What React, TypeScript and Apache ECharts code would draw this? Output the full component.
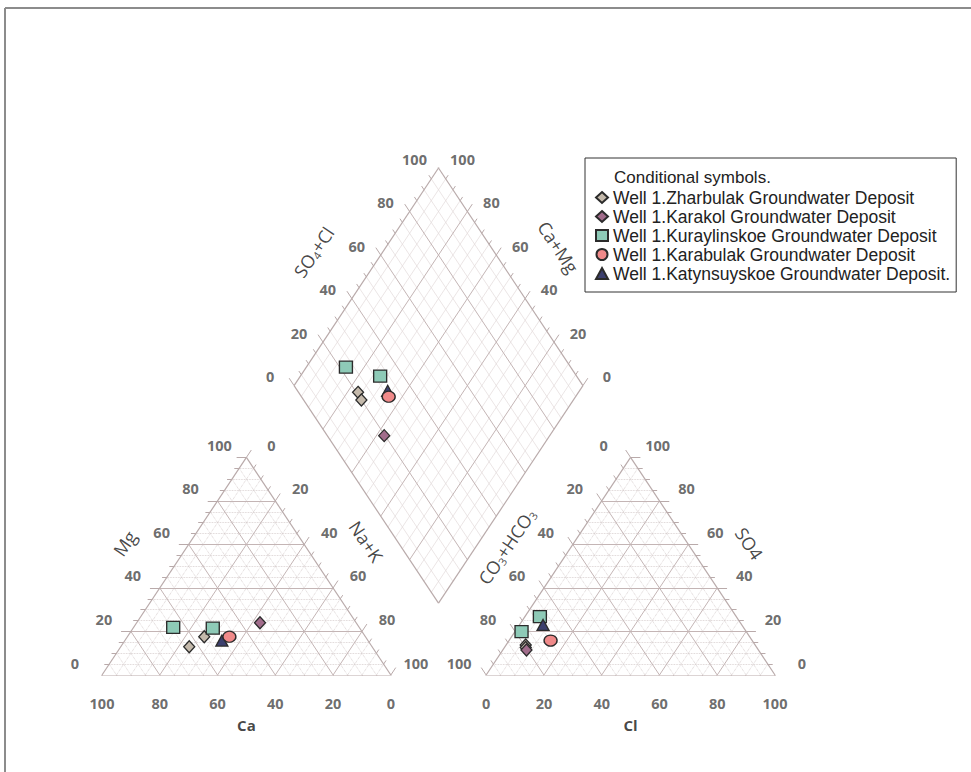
import React, { useEffect, useRef } from "react";
import * as echarts from "echarts";

// ---------- data ----------
const wells = [
  "Well 1.Zharbulak Groundwater Deposit",
  "Well 1.Karakol Groundwater Deposit",
  "Well 1.Kuraylinskoe Groundwater Deposit",
  "Well 1.Karabulak Groundwater Deposit",
  "Well 1.Katynsuyskoe Groundwater Deposit.",
];
const sampleWell = [0, 0, 1, 2, 2, 3, 4];
const ca = [63.3, 55.8, 33.3, 64.4, 50.9, 47.1, 50.6];
const mg = [13.0, 17.6, 24.0, 21.9, 21.5, 17.6, 15.8];
const naK = [23.7, 26.6, 42.7, 13.7, 27.6, 35.3, 33.6];
const hco3 = [79.4, 80.0, 80.3, 77.8, 68.0, 69.8, 68.8];
const so4 = [13.8, 12.6, 11.5, 19.9, 26.8, 15.8, 23.0];
const cl = [6.8, 7.4, 8.2, 2.3, 5.2, 14.4, 8.2];
const tickValues = [0, 20, 40, 60, 80, 100];

// ---------- styles ----------
const wellSymbols = ["diamond", "diamond", "rect", "circle", "triangle"];
const wellSizes: any[] = [[11, 12], [11, 12], [13, 12], [13, 11], [12, 11]];
const wellColors = ["#c4b9ab", "#a16c8b", "#8ecab7", "#f08a8a", "#3c3f6e"];
const drawOrder = [0, 1, 2, 4, 3];

// ---------- geometry ----------
const S = Math.sqrt(3) / 2;
const GAP = 33;
const OFF = 100 + GAP;
type P = [number, number];
const cat = (c: number, m: number, n: number): P => [n + m / 2, m * S];
const ani = (h: number, s: number, c: number): P => [OFF + c + s / 2, s * S];
const dia = (n: number, h: number): P => {
  const t = (OFF + 100 - h - n) / 2;
  return [n + t, 2 * S * t];
};

const UL: P = [-0.5, S];
const UR: P = [0.5, S];
const DR: P = [0.5, -S];
const DL: P = [-0.5, -S];
const LEFT: P = [-1, 0];
const RIGHT: P = [1, 0];

interface Family {
  a: (v: number) => P;
  b: (v: number) => P; // labeled end
  dir: P;
  off: [number, number];
  dotted: boolean;
}
const families: Family[] = [
  // left (cation) triangle
  { a: (v) => cat(0, v, 100 - v), b: (v) => cat(100 - v, v, 0), dir: LEFT, off: [-27, -12], dotted: true }, // Mg
  { a: (v) => cat(100 - v, 0, v), b: (v) => cat(0, 100 - v, v), dir: UR, off: [25, -12], dotted: true }, // Na+K
  { a: (v) => cat(v, 100 - v, 0), b: (v) => cat(v, 0, 100 - v), dir: DR, off: [0, 28], dotted: true }, // Ca
  // right (anion) triangle
  { a: (v) => ani(v, 0, 100 - v), b: (v) => ani(v, 100 - v, 0), dir: UL, off: [-27, -12], dotted: true }, // CO3+HCO3
  { a: (v) => ani(100 - v, v, 0), b: (v) => ani(0, v, 100 - v), dir: RIGHT, off: [27, -12], dotted: true }, // SO4
  { a: (v) => ani(0, 100 - v, v), b: (v) => ani(100 - v, 0, v), dir: DL, off: [0, 28], dotted: true }, // Cl
  // diamond
  { a: (v) => dia(100, 100 - v), b: (v) => dia(0, 100 - v), dir: UL, off: [-24, -9], dotted: false }, // SO4+Cl
  { a: (v) => dia(100 - v, 100), b: (v) => dia(100 - v, 0), dir: UR, off: [24, -9], dotted: false }, // Ca+Mg
];

const majorSegs: P[][] = [];
const minorTri: P[][] = [];
const minorDia: P[][] = [];
const tickSegs: P[][] = [];
const tickLabels: any[] = [];
families.forEach((f) => {
  for (let v = 0; v <= 100; v += 5) {
    const isMaj = v % 20 === 0;
    if (v > 0 && v < 100) {
      const seg = [f.a(v), f.b(v)];
      if (isMaj) majorSegs.push(seg);
      else if (f.dotted) minorTri.push(seg);
      else minorDia.push(seg);
    }
    const p = f.b(v);
    const e = isMaj ? 3.4 : 1.7;
    tickSegs.push([p, [p[0] + f.dir[0] * e, p[1] + f.dir[1] * e]]);
  }
  tickValues.forEach((v) => {
    tickLabels.push({ name: String(v), value: f.b(v), label: { offset: f.off } });
  });
});

const edgeSegs: P[][] = [
  [cat(100, 0, 0), cat(0, 0, 100)],
  [cat(0, 0, 100), cat(0, 100, 0)],
  [cat(0, 100, 0), cat(100, 0, 0)],
  [ani(100, 0, 0), ani(0, 0, 100)],
  [ani(0, 0, 100), ani(0, 100, 0)],
  [ani(0, 100, 0), ani(100, 0, 0)],
  [dia(0, 100), dia(0, 0)],
  [dia(0, 0), dia(100, 0)],
  [dia(100, 0), dia(100, 100)],
  [dia(100, 100), dia(0, 100)],
];

const axisTitles: any[] = [
  { text: "Mg", value: cat(40, 60, 0), off: [-64, -1], rot: 56, bold: false },
  { text: "Na+K", value: cat(0, 60, 40), off: [62, -3], rot: -56, bold: false },
  { text: "Ca", value: cat(50, 0, 50), off: [0, 50], rot: 0, bold: true },
  { text: "CO{s|3}+HCO{s|3}", value: ani(40, 60, 0), off: [-66, 2], rot: 56, bold: false },
  { text: "SO4", value: ani(0, 60, 40), off: [61, -1], rot: -56, bold: false },
  { text: "Cl", value: ani(50, 0, 50), off: [0, 50], rot: 0, bold: true },
  { text: "SO{s|4}+Cl", value: dia(0, 40), off: [-67, -3], rot: 56, bold: false },
  { text: "Ca+Mg", value: dia(40, 0), off: [62, -8], rot: -56, bold: false },
];

// ECharts applies label offset in the rotated frame: convert a screen offset to local
function localOffset(off: number[], rotDeg: number): number[] {
  const r = (rotDeg * Math.PI) / 180;
  const c = Math.cos(r);
  const s = Math.sin(r);
  return [off[0] * c - off[1] * s, off[0] * s + off[1] * c];
}

function lineSeries(segs: P[][], color: string, width: number, type: string, z: number) {
  return {
    type: "lines",
    coordinateSystem: "cartesian2d",
    silent: true,
    z,
    data: segs.map((s) => ({ coords: s })),
    lineStyle: { color, width, type, opacity: 1, curveness: 0 },
  };
}

function buildOption() {
  const markSeries = drawOrder.map((w) => {
    const data: P[] = [];
    sampleWell.forEach((sw, i) => {
      if (sw !== w) return;
      data.push(cat(ca[i], mg[i], naK[i]));
      data.push(ani(hco3[i], so4[i], cl[i]));
      data.push(dia(naK[i], hco3[i]));
    });
    return {
      type: "scatter",
      name: wells[w],
      symbol: wellSymbols[w],
      symbolSize: wellSizes[w],
      z: 10,
      data,
      itemStyle: { color: wellColors[w], borderColor: "#2b2b2b", borderWidth: 1.3, opacity: 1 },
    };
  });

  return {
    animation: false,
    backgroundColor: "#ffffff",
    title: {
      text: "Conditional symbols.",
      left: 614,
      top: 169,
      padding: 0,
      textStyle: { fontSize: 17, fontWeight: "normal", fontFamily: "Liberation Sans", color: "#222" },
    },
    legend: {
      data: wells,
      orient: "vertical",
      left: 585,
      top: 158,
      padding: [30, 6, 9, 10],
      itemGap: 0,
      itemWidth: 12,
      itemHeight: 11,
      selectedMode: false,
      borderColor: "#333",
      borderWidth: 1,
      backgroundColor: "#fff",
      textStyle: { fontSize: 17.5, fontFamily: "Liberation Sans", color: "#222", lineHeight: 19 },
    },
    grid: { left: 102, right: 196, top: 168, bottom: 97 },
    xAxis: { type: "value", min: 0, max: OFF + 100, show: false },
    yAxis: { type: "value", min: 0, max: dia(0, 0)[1], show: false },
    graphic: [
      { type: "line", shape: { x1: 5, y1: 8, x2: 971, y2: 8 }, style: { stroke: "#8c8c8c", lineWidth: 2 } },
      { type: "line", shape: { x1: 5, y1: 8, x2: 5, y2: 772 }, style: { stroke: "#8c8c8c", lineWidth: 2 } },
    ],
    series: [
      lineSeries(minorDia, "#e2dada", 0.7, "solid", 1),
      lineSeries(minorTri, "#d2c8c8", 0.8, "dotted", 1),
      lineSeries(majorSegs, "#c4b5b5", 1, "solid", 2),
      lineSeries(edgeSegs, "#b9aaaa", 1.2, "solid", 3),
      lineSeries(tickSegs, "#b9aaaa", 1, "solid", 3),
      {
        type: "scatter",
        silent: true,
        symbolSize: 1,
        z: 5,
        itemStyle: { color: "rgba(0,0,0,0)" },
        data: tickLabels,
        label: {
          show: true,
          position: "inside",
          formatter: "{b}",
          color: "#474747",
          fontSize: 14.5,
          fontWeight: "bold",
          fontFamily: "Open Sans",
        },
      },
      {
        type: "scatter",
        silent: true,
        symbolSize: 1,
        z: 5,
        itemStyle: { color: "rgba(0,0,0,0)" },
        data: axisTitles.map((t) => ({
          value: t.value,
          text: t.text,
          label: {
            offset: localOffset(t.off, t.rot),
            rotate: t.rot,
            fontWeight: t.bold ? "bold" : "normal",
            fontSize: t.bold ? 15 : 18,
          },
        })),
        label: {
          show: true,
          position: "inside",
          formatter: (p: any) => p.data.text,
          color: "#151515",
          fontFamily: "Open Sans",
          lineHeight: 20,
          rich: {
            s: { fontSize: 11, lineHeight: 8, verticalAlign: "bottom", fontFamily: "Open Sans", color: "#151515" },
          },
        },
      },
      ...markSeries,
    ],
  };
}

export default function App() {
  const ref = useRef<HTMLDivElement>(null);
  useEffect(() => {
    const chart = echarts.init(ref.current!, null, { renderer: "svg" });
    chart.setOption(buildOption() as any);
    return () => chart.dispose();
  }, []);
  return (
    <div
      ref={ref}
      style={{ position: "absolute", left: 0, top: 0, width: 971, height: 772 }}
    />
  );
}
